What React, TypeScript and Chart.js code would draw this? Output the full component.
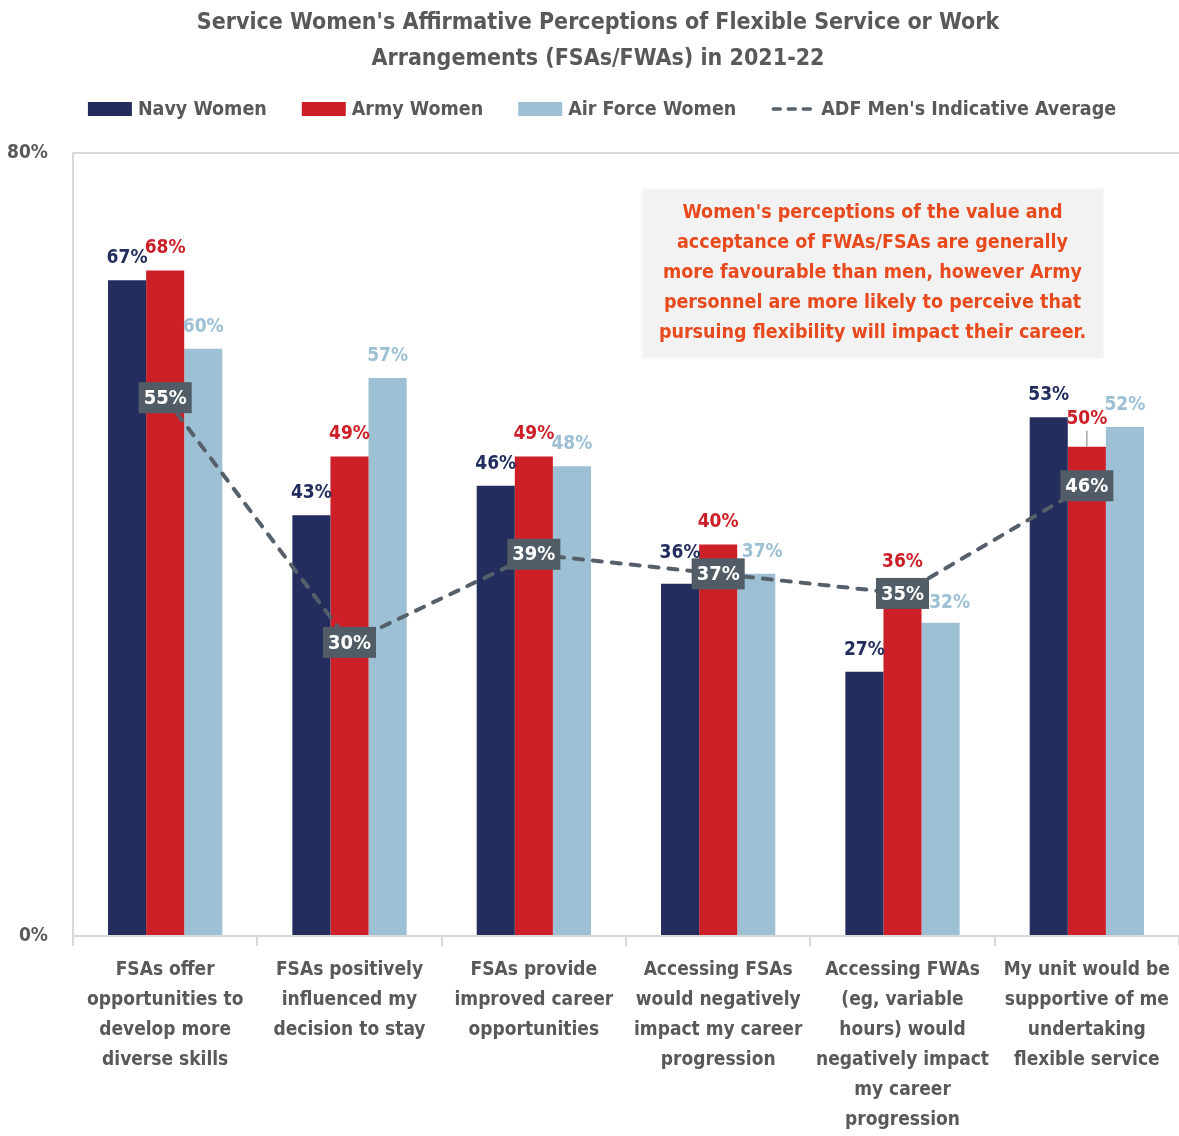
import React, { useEffect, useRef } from "react";
import { Chart, registerables } from "chart.js";

Chart.register(...registerables);

const FONT = '"Liberation Sans Narrow", "DejaVu Sans Condensed", "Arial Narrow", sans-serif';

const titleLines = [
  "Service Women's Affirmative Perceptions of Flexible Service or Work",
  "Arrangements (FSAs/FWAs) in 2021-22",
];
const categories = [
  ["FSAs offer", "opportunities to", "develop more", "diverse skills"],
  ["FSAs positively", "influenced my", "decision to stay"],
  ["FSAs provide", "improved career", "opportunities"],
  ["Accessing FSAs", "would negatively", "impact my career", "progression"],
  ["Accessing FWAs", "(eg, variable", "hours) would", "negatively impact", "my career", "progression"],
  ["My unit would be", "supportive of me", "undertaking", "flexible service"],
];
const seriesNames = ["Navy Women", "Army Women", "Air Force Women", "ADF Men's Indicative Average"];
const navyWomen = [67, 43, 46, 36, 27, 53];
const armyWomen = [68, 49, 49, 40, 36, 50];
const airForceWomen = [60, 57, 48, 37, 32, 52];
const adfMenAverage = [55, 30, 39, 37, 35, 46];
const yTickValues = [0, 80];
const noteLines = [
  "Women's perceptions of the value and",
  "acceptance of FWAs/FSAs are generally",
  "more favourable than men, however Army",
  "personnel are more likely to perceive that",
  "pursuing flexibility will impact their career.",
];

// label placement tweaks (style only): "dataset-category" -> [dx, dy]
const labelNudges: Record<string, [number, number]> = {
  "0-3": [0, -9],
  "2-3": [6, 0],
  "2-4": [9, 2],
  "1-5": [0, -6],
};
const leaderLabels = new Set(["1-5"]);

const NAVY = "#232d5e";
const RED = "#cc1f27";
const LIGHT = "#9dc0d4";
const LINE = "#56606a";
const GREY = "#595959";

const decorPlugin = {
  id: "decor",
  afterDatasetsDraw(chart: any) {
    const ctx = chart.ctx as CanvasRenderingContext2D;
    ctx.save();
    ctx.textAlign = "center";
    ctx.textBaseline = "middle";
    const lmeta = chart.getDatasetMeta(3);
    const ldata = chart.data.datasets[3].data as number[];
    ctx.font = `bold 20px ${FONT}`;
    lmeta.data.forEach((el: any, i: number) => {
      const txt = `${ldata[i]}%`;
      const w = ctx.measureText(txt).width + 10;
      const h = 31;
      ctx.fillStyle = "#515c66";
      ctx.fillRect(el.x - w / 2, el.y - h / 2, w, h);
      ctx.fillStyle = "#ffffff";
      ctx.fillText(txt, el.x, el.y + 1);
    });
    const barColors = [NAVY, RED, LIGHT];
    ctx.font = `bold 19px ${FONT}`;
    for (let d = 0; d < 3; d++) {
      const meta = chart.getDatasetMeta(d);
      const data = chart.data.datasets[d].data as number[];
      meta.data.forEach((el: any, i: number) => {
        const key = `${d}-${i}`;
        const [dx, dy] = labelNudges[key] || [0, 0];
        const ty = el.y - 22 + dy;
        if (leaderLabels.has(key)) {
          ctx.strokeStyle = "#a6a6a6";
          ctx.lineWidth = 1.5;
          ctx.beginPath();
          ctx.moveTo(el.x, el.y);
          ctx.lineTo(el.x, ty + 12);
          ctx.stroke();
        }
        ctx.fillStyle = barColors[d];
        ctx.fillText(`${data[i]}%`, el.x + dx, ty);
      });
    }
    ctx.restore();
  },
  afterDraw(chart: any) {
    const ctx = chart.ctx as CanvasRenderingContext2D;
    ctx.save();
    ctx.fillStyle = GREY;
    ctx.font = `bold 23px ${FONT}`;
    ctx.textAlign = "center";
    ctx.textBaseline = "middle";
    titleLines.forEach((t, i) => ctx.fillText(t, 598, 23 + i * 36));

    ctx.font = `bold 19.5px ${FONT}`;
    ctx.textAlign = "left";
    const boxW = 44;
    const gapBox = 6;
    const gapItem = 35;
    const colors = [NAVY, RED, LIGHT, LINE];
    const widths = seriesNames.map((n) => boxW + gapBox + ctx.measureText(n).width);
    const total = widths.reduce((a, b) => a + b, 0) + gapItem * (seriesNames.length - 1);
    let x = 602 - total / 2;
    const ly = 109;
    seriesNames.forEach((n, i) => {
      if (i < 3) {
        ctx.fillStyle = colors[i];
        ctx.fillRect(x, ly - 7, boxW, 14);
      } else {
        ctx.strokeStyle = LINE;
        ctx.lineWidth = 3.5;
        ctx.lineCap = "round";
        ctx.setLineDash([7, 8]);
        ctx.beginPath();
        ctx.moveTo(x + 2, ly);
        ctx.lineTo(x + boxW, ly);
        ctx.stroke();
        ctx.setLineDash([]);
      }
      ctx.fillStyle = GREY;
      ctx.fillText(n, x + boxW + gapBox, ly + 1);
      x += widths[i] + gapItem;
    });

    const bx = 643;
    const by = 190;
    const bw = 459;
    const bh = 167;
    ctx.fillStyle = "#f2f2f2";
    ctx.fillRect(bx, by, bw, bh);
    ctx.strokeStyle = "#f7f7f7";
    ctx.lineWidth = 2;
    ctx.strokeRect(bx - 1, by - 1, bw + 2, bh + 2);
    ctx.fillStyle = "#e8491d";
    ctx.font = `bold 19.5px ${FONT}`;
    ctx.textAlign = "center";
    noteLines.forEach((t, i) => ctx.fillText(t, bx + bw / 2, 213 + i * 30));
    ctx.restore();
  },
};

export default function App() {
  const ref = useRef<HTMLCanvasElement>(null);
  useEffect(() => {
    if (!ref.current) return;
    Chart.defaults.font.family = FONT;
    const barCommon = { barPercentage: 1, categoryPercentage: 0.62, order: 1 };
    const chart = new Chart(ref.current, {
      type: "bar",
      data: {
        labels: categories,
        datasets: [
          { type: "bar", label: seriesNames[0], data: navyWomen, backgroundColor: NAVY, ...barCommon },
          { type: "bar", label: seriesNames[1], data: armyWomen, backgroundColor: RED, ...barCommon },
          { type: "bar", label: seriesNames[2], data: airForceWomen, backgroundColor: LIGHT, ...barCommon },
          {
            type: "line",
            label: seriesNames[3],
            data: adfMenAverage,
            borderColor: LINE,
            borderWidth: 4,
            borderDash: [9, 10],
            borderCapStyle: "round",
            pointRadius: 0,
            fill: false,
            tension: 0,
            order: 0,
          } as any,
        ],
      },
      options: {
        responsive: false,
        animation: false,
        layout: { padding: { top: 153, right: 0, left: 0, bottom: 0 } },
        plugins: {
          legend: { display: false },
          title: { display: false },
          tooltip: { enabled: false },
        },
        scales: {
          x: {
            grid: { offset: true, drawOnChartArea: false, drawTicks: true, tickLength: 10, color: "#d9d9d9", lineWidth: 2 },
            border: { color: "#d9d9d9", width: 2 },
            ticks: {
              color: GREY,
              font: { size: 19, weight: "bold", lineHeight: 1.58 },
              padding: 9,
              maxRotation: 0,
              autoSkip: false,
            },
            afterFit: (s: any) => {
              s.height = 200;
            },
          },
          y: {
            min: 0,
            max: 80,
            afterBuildTicks: (s: any) => {
              s.ticks = yTickValues.map((v) => ({ value: v }));
            },
            grid: { drawTicks: false, color: "#d9d9d9", lineWidth: 2 },
            border: { color: "#d9d9d9", width: 2 },
            ticks: {
              color: GREY,
              font: { size: 19, weight: "bold" },
              padding: 25,
              callback: (v: any) => `${v}%`,
            },
            afterFit: (s: any) => {
              s.width = 73;
            },
          },
        },
      },
      plugins: [decorPlugin],
    });
    return () => chart.destroy();
  }, []);
  return (
    <div style={{ position: "absolute", left: 0, top: 0, width: 1179, height: 1136, background: "#fff" }}>
      <canvas ref={ref} width={1179} height={1136} style={{ display: "block" }} />
    </div>
  );
}
